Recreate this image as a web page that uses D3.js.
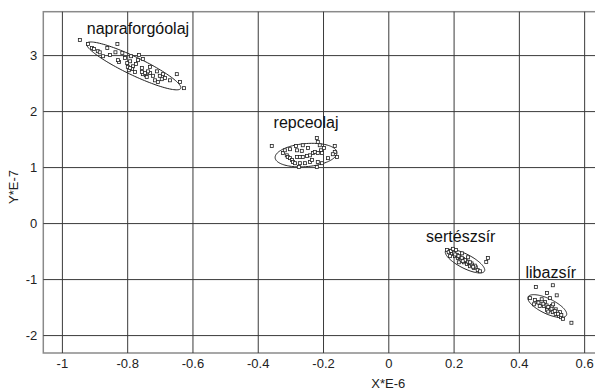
<!DOCTYPE html>
<html>
<head>
<meta charset="utf-8">
<script src="https://cdn.jsdelivr.net/npm/d3@7"></script>
<style>
  body { margin: 0; background: #fff; }
  svg { display: block; font-family: "Liberation Sans", Arial, sans-serif; }
</style>
</head>
<body>
<div id="chart"></div>
<script>
// tick values
const xTicks = [-1, -0.8, -0.6, -0.4, -0.2, 0, 0.2, 0.4, 0.6];
const yTicks = [-2, -1, 0, 1, 2, 3];

// group names
const groups = ["napraforgóolaj", "repceolaj", "sertészsír", "libazsír"];

// points per group, [X*E-6, Y*E-7]
const napraforgoolaj = [
  [-0.945, 3.27], [-0.920, 3.20], [-0.908, 3.125], [-0.902, 3.11], [-0.890, 3.07],
  [-0.874, 2.98], [-0.861, 3.125], [-0.836, 3.05], [-0.830, 3.20], [-0.815, 3.04],
  [-0.825, 2.875], [-0.800, 2.857], [-0.791, 2.89], [-0.788, 2.98], [-0.782, 2.80],
  [-0.785, 2.75], [-0.776, 2.70], [-0.764, 3.00], [-0.767, 2.91], [-0.752, 2.93],
  [-0.755, 2.77], [-0.752, 2.66], [-0.743, 2.64], [-0.740, 2.61], [-0.730, 2.68],
  [-0.721, 2.63], [-0.715, 2.55], [-0.709, 2.71], [-0.700, 2.63], [-0.694, 2.57],
  [-0.690, 2.66], [-0.706, 2.52], [-0.648, 2.66], [-0.638, 2.52], [-0.626, 2.41],
  [-0.798, 2.79], [-0.795, 2.73], [-0.791, 2.77], [-0.755, 2.70], [-0.745, 2.68],
  [-0.736, 2.71], [-0.884, 3.05], [-0.853, 3.00], [-0.807, 2.95], [-0.828, 2.91],
  [-0.773, 2.84], [-0.730, 2.79], [-0.684, 2.59], [-0.669, 2.55]
];
const repceolaj = [
  [-0.357, 1.375], [-0.301, 1.32], [-0.283, 1.375], [-0.262, 1.39], [-0.265, 1.29],
  [-0.280, 1.30], [-0.219, 1.52], [-0.216, 1.45], [-0.210, 1.39], [-0.197, 1.34],
  [-0.206, 1.30], [-0.164, 1.375], [-0.164, 1.27], [-0.157, 1.18], [-0.170, 1.23],
  [-0.185, 1.16], [-0.323, 1.25], [-0.311, 1.21], [-0.308, 1.18], [-0.301, 1.16],
  [-0.295, 1.125], [-0.292, 1.09], [-0.286, 1.07], [-0.280, 1.18], [-0.271, 1.18],
  [-0.262, 1.18], [-0.249, 1.20], [-0.240, 1.21], [-0.231, 1.25], [-0.225, 1.27],
  [-0.216, 1.25], [-0.203, 1.25], [-0.271, 1.07], [-0.255, 1.07], [-0.240, 1.09],
  [-0.216, 1.09], [-0.203, 1.07], [-0.219, 1.00], [-0.274, 1.00], [-0.317, 1.30],
  [-0.246, 1.34], [-0.234, 1.125]
];
const serteszsir = [
  [0.180, -0.48], [0.185, -0.52], [0.192, -0.50], [0.195, -0.55], [0.201, -0.54],
  [0.204, -0.59], [0.210, -0.57], [0.213, -0.625], [0.219, -0.61], [0.222, -0.66],
  [0.229, -0.64], [0.232, -0.70], [0.238, -0.68], [0.241, -0.73], [0.247, -0.71],
  [0.250, -0.77], [0.256, -0.75], [0.262, -0.80], [0.268, -0.79], [0.274, -0.84],
  [0.207, -0.48], [0.226, -0.54], [0.244, -0.61], [0.189, -0.59], [0.216, -0.70],
  [0.305, -0.625], [0.300, -0.696], [0.281, -0.86], [0.198, -0.46],
  [0.215, -0.59], [0.225, -0.62], [0.235, -0.66], [0.245, -0.69], [0.255, -0.72],
  [0.265, -0.76], [0.205, -0.56], [0.228, -0.68], [0.250, -0.70], [0.260, -0.78]
];
const libazsir = [
  [0.452, -1.14], [0.504, -1.11], [0.434, -1.34], [0.486, -1.25], [0.495, -1.34],
  [0.516, -1.29], [0.449, -1.375], [0.458, -1.41], [0.468, -1.45], [0.477, -1.48],
  [0.486, -1.52], [0.495, -1.55], [0.504, -1.59], [0.513, -1.625], [0.523, -1.66],
  [0.529, -1.68], [0.561, -1.78], [0.486, -1.55], [0.464, -1.48], [0.480, -1.41],
  [0.501, -1.48], [0.513, -1.54], [0.470, -1.36], [0.446, -1.45], [0.526, -1.59],
  [0.535, -1.71], [0.475, -1.44], [0.485, -1.47], [0.490, -1.50], [0.500, -1.53],
  [0.510, -1.57], [0.520, -1.62], [0.460, -1.42], [0.530, -1.64], [0.505, -1.45],
  [0.490, -1.58]
];

// ellipse per group: centre, half major axis vector, half minor axis vector (data units)
const ellipseCentre = [[-0.780, 2.807], [-0.252, 1.214], [0.235, -0.679], [0.487, -1.482]];
const ellipseMajor = [[0.144, -0.402], [0.0947, 0.048], [0.0597, -0.179], [0.0588, -0.164]];
const ellipseMinor = [[-0.012, -0.145], [0.003, -0.205], [-0.0095, -0.1125], [-0.0098, -0.121]];

const points = [napraforgoolaj, repceolaj, serteszsir, libazsir];

// where the group names sit (data units, baseline centre)
const labelAt = [[-0.767, 3.375], [-0.252, 1.70], [0.222, -0.335], [0.498, -0.975]];

const width = 595, height = 390;
const plotLeft = 43.3, plotTop = 11.7, plotBottom = 353;

const x = d3.scaleLinear().domain([-1.057, 0.663]).range([plotLeft, plotLeft + 1.72 * 326.4]);
const y = d3.scaleLinear().domain([-2.32, 3.775]).range([plotBottom, plotTop]);

const svg = d3.select("#chart").append("svg")
    .attr("width", width)
    .attr("height", height);

// frame
svg.append("rect")
    .attr("x", x.range()[0])
    .attr("y", plotTop)
    .attr("width", x.range()[1] - x.range()[0])
    .attr("height", plotBottom - plotTop)
    .attr("fill", "none")
    .attr("stroke", "#8a8a8a")
    .attr("stroke-width", 1.5);

svg.append("g")
    .attr("transform", `translate(0,${plotBottom})`)
    .call(d3.axisBottom(x).tickValues(xTicks).tickFormat(d => String(d))
        .tickSize(-(plotBottom - plotTop)).tickPadding(6))
    .call(g => g.select(".domain").remove());

svg.append("g")
    .attr("transform", `translate(${plotLeft},0)`)
    .call(d3.axisLeft(y).tickValues(yTicks).tickFormat(d => String(d))
        .tickSize(-(x.range()[1] - plotLeft)).tickPadding(6))
    .call(g => g.select(".domain").remove());

svg.selectAll(".tick line")
    .attr("stroke", "#3a3a3a")
    .attr("stroke-width", 1);
svg.selectAll(".tick text")
    .attr("fill", "#222")
    .style("font-size", "13px")
    .style("font-family", "'Liberation Sans', Arial, sans-serif");

// ellipses
const ellipseLine = d3.line()
    .x(d => x(d[0]))
    .y(d => y(d[1]))
    .curve(d3.curveLinearClosed);

groups.forEach(function (name, i) {
    const c = ellipseCentre[i], a = ellipseMajor[i], b = ellipseMinor[i];
    const ring = d3.range(0, 2 * Math.PI, Math.PI / 60).map(t => [
        c[0] + a[0] * Math.cos(t) + b[0] * Math.sin(t),
        c[1] + a[1] * Math.cos(t) + b[1] * Math.sin(t)
    ]);
    svg.append("path")
        .attr("d", ellipseLine(ring))
        .attr("fill", "none")
        .attr("stroke", "#222")
        .attr("stroke-width", 1);
});

// points
const s = 3;
svg.append("g")
    .selectAll("g")
    .data(points)
    .join("g")
    .selectAll("rect")
    .data(d => d)
    .join("rect")
    .attr("x", d => x(d[0]) - s / 2)
    .attr("y", d => y(d[1]) - s / 2)
    .attr("width", s)
    .attr("height", s)
    .attr("fill", "#fff")
    .attr("stroke", "#222")
    .attr("stroke-width", 0.8);

// group names
svg.append("g")
    .selectAll("text")
    .data(groups)
    .join("text")
    .attr("x", (d, i) => x(labelAt[i][0]))
    .attr("y", (d, i) => y(labelAt[i][1]))
    .attr("text-anchor", "middle")
    .attr("fill", "#111")
    .style("font-size", "16px")
    .text(d => d);

// axis titles
svg.append("text")
    .attr("x", x(0))
    .attr("y", 388)
    .attr("text-anchor", "middle")
    .attr("fill", "#222")
    .style("font-size", "13px")
    .text("X*E-6");

svg.append("text")
    .attr("transform", "translate(17.5,187) rotate(-90)")
    .attr("text-anchor", "middle")
    .attr("fill", "#222")
    .style("font-size", "13px")
    .text("Y*E-7");
</script>
</body>
</html>
